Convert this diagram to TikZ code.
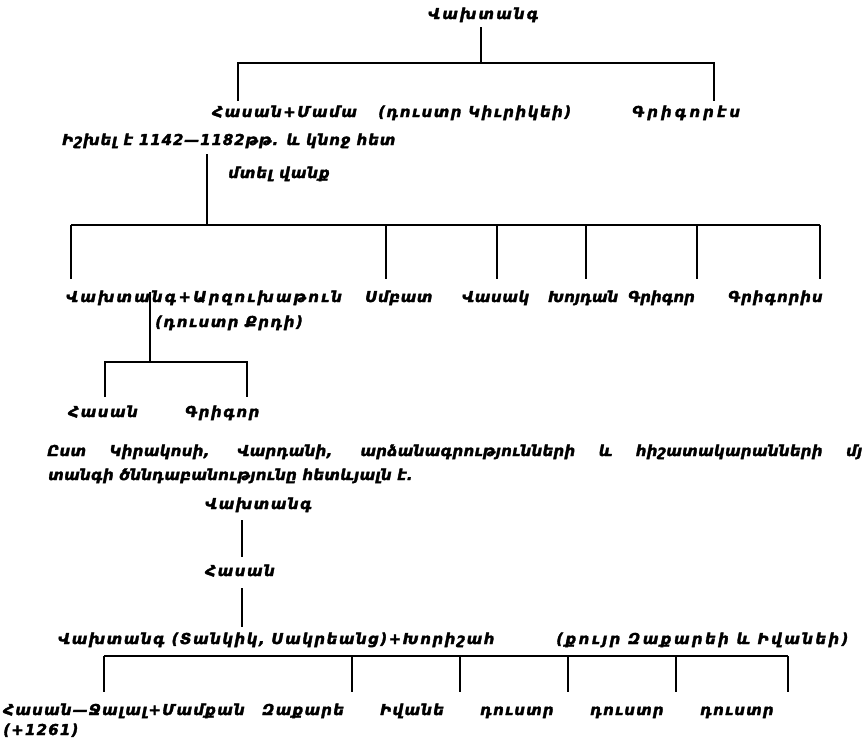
\documentclass[tikz,border=0pt]{standalone}
\usepackage{fontspec}
\newfontfamily\arm{DejaVu Sans Bold Oblique}[FakeBold=2.2]
\newcommand{\ls}[2]{\addfontfeatures{LetterSpace=#1}#2}
\tikzset{
  nm/.style={font=\arm\fontsize{15}{17}\selectfont, anchor=base west, inner sep=0pt},
  ln/.style={line width=1.3pt, line cap=butt}
}
\begin{document}
\begin{tikzpicture}[x=1pt,y=-1pt]
\fill[white] (0,0) rectangle (862,740);
\useasboundingbox (0,0) rectangle (862,740);

% ---------- first tree ----------
\node[nm] (t0) at (428,19) {\ls{14}{Վախտանգ}};
\coordinate (a0) at (481,27);
\coordinate (a1) at (481,63);
\coordinate (a2) at (238,63);
\coordinate (a3) at (714,63);
\coordinate (a4) at (238,101);
\coordinate (a5) at (714,101);
\draw[ln] (a0) -- (a1);
\draw[ln] (a4) -- (a2) -- (a3) -- (a5);

\node[nm] (r2a) at (212,117) {\ls{10}{Հասան+Մամա}};
\node[nm] (r2b) at (378,117) {\ls{10}{(դուստր Կիւրիկեի)}};
\node[nm] (r2c) at (632,117) {\ls{20}{Գրիգորէս}};
\node[nm] (r2d) at (62,145) {\ls{6}{Իշխել է 1142—1182թթ. և կնոջ հետ}};
\node[nm] (r2e) at (228,178) {\ls{6}{մտել վանք}};

\coordinate (b0) at (207,154);
\coordinate (b1) at (207,225);
\coordinate (b2) at (71,225);
\coordinate (b3) at (820,225);
\draw[ln] (b0) -- (b1);
\draw[ln] (b2) -- (b3);
\foreach \x/\n in {71/1,386/2,497/3,586/4,697/5,820/6}{
  \coordinate (bt\n) at (\x,225);
  \coordinate (bb\n) at (\x,279);
  \draw[ln] (bt\n) -- (bb\n);
}

\node[nm] (r3a) at (66,302) {\ls{14}{Վախտանգ+Արզուխաթուն}};
\node[nm] (r3b) at (365,302) {\ls{4}{Սմբատ}};
\node[nm] (r3c) at (462,302) {\ls{4}{Վասակ}};
\node[nm] (r3d) at (548,302) {\ls{0}{Խոյդան}};
\node[nm] (r3e) at (628,302) {\ls{0}{Գրիգոր}};
\node[nm] (r3f) at (728,302) {\ls{6}{Գրիգորիս}};

\coordinate (c0) at (150,292);
\coordinate (c1) at (150,362);
\coordinate (c2) at (105,362);
\coordinate (c3) at (247,362);
\coordinate (c4) at (105,397);
\coordinate (c5) at (247,397);
\draw[ln] (c0) -- (c1);
\draw[ln] (c4) -- (c2) -- (c3) -- (c5);
\node[nm] (r3g) at (155,327) {\ls{10}{(դուստր Քրդի)}};

\node[nm] (r4a) at (68,417) {\ls{10}{Հասան}};
\node[nm] (r4b) at (185,417) {\ls{10}{Գրիգոր}};

% ---------- paragraph ----------
\node[nm] (p1) at (47,456) {\ls{2}{\makebox[815pt][s]{Ըստ Կիրակոսի, Վարդանի, արձանագրությունների և հիշատակարանների մյ}}};
\node[nm] (p2) at (48,480) {\ls{2}{տանգի ծննդաբանությունը հետևյալն է.}};

% ---------- second tree ----------
\node[nm] (s0) at (205,509) {\ls{10}{Վախտանգ}};
\coordinate (d0) at (242,520);
\coordinate (d1) at (242,557);
\draw[ln] (d0) -- (d1);
\node[nm] (s1) at (205,576) {\ls{10}{Հասան}};
\coordinate (d2) at (242,588);
\coordinate (d3) at (242,627);
\draw[ln] (d2) -- (d3);

\node[nm] (s2) at (58,644) {\ls{10}{Վախտանգ (Տանկիկ, Սակրեանց)+Խորիշահ}};
\node[nm] (s3) at (556,644) {\ls{16}{(քույր Զաքարեի և Իվանեի)}};

\coordinate (e0) at (104,656);
\coordinate (e1) at (788,656);
\draw[ln] (e0) -- (e1);
\foreach \x/\n in {104/1,352/2,460/3,568/4,676/5,788/6}{
  \coordinate (et\n) at (\x,656);
  \coordinate (eb\n) at (\x,692);
  \draw[ln] (et\n) -- (eb\n);
}

\node[nm] (u1) at (3,715) {\ls{8}{Հասան—Ջալալ+Մամքան}};
\node[nm] (u2) at (262,715) {\ls{8}{Զաքարե}};
\node[nm] (u3) at (380,715) {\ls{8}{Իվանե}};
\node[nm] (u4) at (480,715) {\ls{8}{դուստր}};
\node[nm] (u5) at (590,715) {\ls{8}{դուստր}};
\node[nm] (u6) at (700,715) {\ls{8}{դուստր}};
\node[nm] (u7) at (3,735) {\ls{8}{(+1261)}};
\end{tikzpicture}
\end{document}
